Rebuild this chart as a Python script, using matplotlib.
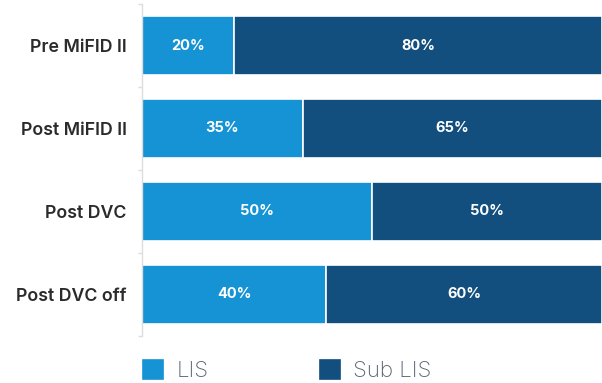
import matplotlib.pyplot as plt
import numpy as np

plt.rcParams['font.family'] = ['Inter', 'DejaVu Sans']

categories = ['Pre MiFID II', 'Post MiFID II', 'Post DVC', 'Post DVC off']
lis = [20, 35, 50, 40]
sub_lis = [80, 65, 50, 60]
series_names = ['LIS', 'Sub LIS']
colors = ['#1593d4', '#134f7e']

fig = plt.figure(figsize=(6.02, 3.83), dpi=100)
ax = fig.add_axes([142 / 602, 47 / 383, 460 / 602, 332 / 383])

y = np.arange(len(categories))
b1 = ax.barh(y, lis, height=0.7, color=colors[0], edgecolor='white', linewidth=1.2, label=series_names[0])
b2 = ax.barh(y, sub_lis, left=lis, height=0.7, color=colors[1], edgecolor='white', linewidth=1.2, label=series_names[1])

for bars, vals in ((b1, lis), (b2, sub_lis)):
    ax.bar_label(bars, labels=[f'{v}%' for v in vals], label_type='center',
                 color='white', fontsize=10.5, fontweight='bold')

ax.set_xlim(0, 100)
ax.set_ylim(len(categories) - 0.5, -0.5)
ax.set_yticks(y)
ax.set_yticklabels(categories, fontsize=12.8, fontweight='semibold', color='#2b2b2b')
ax.tick_params(axis='y', length=0, pad=11)
ax.set_yticks(np.arange(len(categories) + 1) - 0.5, minor=True)
ax.tick_params(axis='y', which='minor', length=3, color='#dddddd', width=1)
ax.set_xticks([])

for side in ('top', 'right', 'bottom'):
    ax.spines[side].set_visible(False)
ax.spines['left'].set_color('#dddddd')
ax.spines['left'].set_linewidth(1)

leg = fig.legend(handles=[b1, b2], loc='lower left', bbox_to_anchor=(123 / 602, -0.048),
                 ncol=2, frameon=False, fontsize=16, handlelength=0.9, handleheight=0.95,
                 handletextpad=0.6, columnspacing=5.0, labelcolor='#5a6570')
for t in leg.get_texts():
    t.set_fontweight('light')
for h, c in zip(leg.legend_handles, colors):
    h.set_edgecolor(c)

fig.savefig('out.png', dpi=100)
